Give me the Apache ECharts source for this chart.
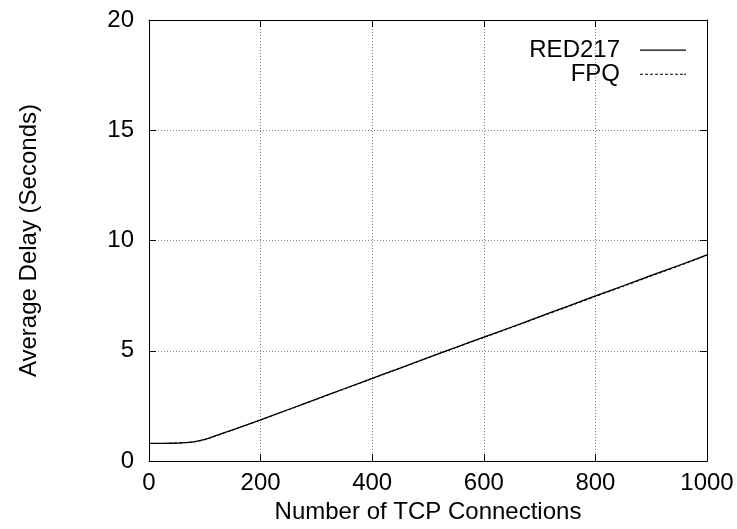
<!DOCTYPE html>
<html><head><meta charset="utf-8">
<script src="https://cdn.jsdelivr.net/npm/echarts@6/dist/echarts.min.js"></script>
<style>html,body{margin:0;padding:0;background:#fff}#c{width:737px;height:529px}</style>
</head><body><div id="c"></div>
<script>
const connections = [0, 20, 40, 60, 80, 100, 150, 200, 250, 300, 350, 400, 450, 500, 550, 600, 650, 700, 750, 800, 850, 900, 950, 1000];
const red217 = [0.80, 0.80, 0.81, 0.83, 0.87, 0.98, 1.42, 1.87, 2.34, 2.81, 3.28, 3.75, 4.22, 4.69, 5.16, 5.62, 6.08, 6.55, 7.02, 7.49, 7.95, 8.42, 8.88, 9.35];
const fpq    = [0.80, 0.80, 0.81, 0.83, 0.87, 0.97, 1.41, 1.86, 2.33, 2.80, 3.27, 3.74, 4.21, 4.68, 5.14, 5.60, 6.06, 6.53, 6.99, 7.46, 7.92, 8.39, 8.85, 9.33];
const xTicks = [0, 200, 400, 600, 800, 1000];
const yTicks = [0, 5, 10, 15, 20];

const font = 'Liberation Sans, Arial, sans-serif';
const chart = echarts.init(document.getElementById('c'));
const gridLine = {show: true, lineStyle: {color: '#888', type: [1, 2], width: 1}};
const tick = {show: true, inside: true, length: 7, lineStyle: {color: '#000', width: 1}};
const axLine = {show: true, onZero: false, lineStyle: {color: '#000', width: 1}};
const labelStyle = {fontFamily: font, fontSize: 24, color: '#000'};
chart.setOption({
  animation: false,
  grid: {left: 149, right: 30, top: 20, bottom: 66},
  legend: {
    right: 46, top: 33, orient: 'vertical', align: 'right', itemGap: 0,
    itemWidth: 46, itemHeight: 23,
    textStyle: Object.assign({padding: [0, 15, 0, 0]}, labelStyle),
    data: [
      {name: 'RED217', icon: 'path://M0,11 L46,11 L46,12.2 L0,12.2 Z M0,0 L0.01,0 Z M0,23 L0.01,23 Z'},
      {name: 'FPQ', icon: 'path://M0,11.3 L3,11.3 L3,12.2 L0,12.2 Z M5,11.3 L8,11.3 L8,12.2 L5,12.2 Z M10,11.3 L13,11.3 L13,12.2 L10,12.2 Z M15,11.3 L18,11.3 L18,12.2 L15,12.2 Z M20,11.3 L23,11.3 L23,12.2 L20,12.2 Z M25,11.3 L28,11.3 L28,12.2 L25,12.2 Z M30,11.3 L33,11.3 L33,12.2 L30,12.2 Z M35,11.3 L38,11.3 L38,12.2 L35,12.2 Z M40,11.3 L43,11.3 L43,12.2 L40,12.2 Z M44,11.3 L46,11.3 L46,12.2 L44,12.2 Z M0,0 L0.01,0 Z M0,23 L0.01,23 Z'}
    ]
  },
  xAxis: [{
    type: 'value', min: 0, max: 1000, interval: 200,
    name: 'Number of TCP Connections', nameLocation: 'middle', nameGap: 37,
    nameTextStyle: labelStyle,
    axisLine: axLine, axisTick: tick,
    axisLabel: Object.assign({margin: 10, formatter: v => xTicks.includes(v) ? String(v) : ''}, labelStyle),
    splitLine: gridLine
  }, {
    type: 'value', position: 'top', min: 0, max: 1000, interval: 200,
    axisLine: axLine, axisTick: tick,
    axisLabel: {show: false}, splitLine: {show: false}
  }],
  yAxis: [{
    type: 'value', min: 0, max: 20, interval: 5,
    name: 'Average Delay (Seconds)', nameLocation: 'middle', nameGap: 108,
    nameTextStyle: labelStyle,
    axisLine: axLine, axisTick: tick,
    axisLabel: Object.assign({margin: 15, formatter: v => yTicks.includes(v) ? String(v) : ''}, labelStyle),
    splitLine: gridLine
  }, {
    type: 'value', position: 'right', min: 0, max: 20, interval: 5,
    axisLine: axLine, axisTick: tick,
    axisLabel: {show: false}, splitLine: {show: false}
  }],
  series: [{
    name: 'RED217', type: 'line', showSymbol: false, smooth: 0.3,
    data: connections.map((c, i) => [c, red217[i]]),
    lineStyle: {color: '#000', width: 1.3}, itemStyle: {color: '#000'}
  }, {
    name: 'FPQ', type: 'line', showSymbol: false, smooth: 0.3,
    data: connections.map((c, i) => [c, fpq[i]]),
    lineStyle: {color: '#000', width: 1, type: [3, 2]}, itemStyle: {color: '#000'}
  }]
});
</script></body></html>
